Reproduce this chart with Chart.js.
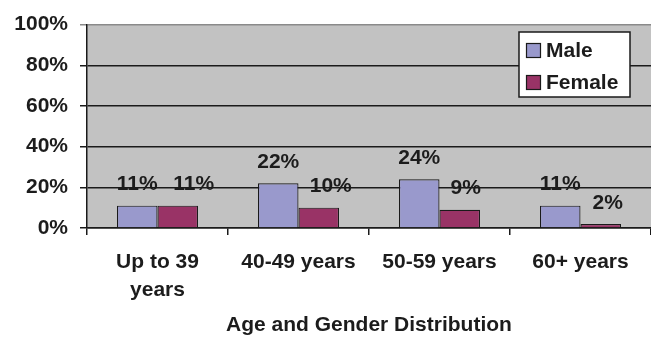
<!DOCTYPE html>
<html>
<head>
<meta charset="utf-8">
<script src="https://cdn.jsdelivr.net/npm/chart.js@4.4.1/dist/chart.umd.min.js"></script>
<style>
  html, body { margin: 0; padding: 0; background: #fff; overflow: hidden; }
  #wrap { width: 651px; height: 338px; }
</style>
</head>
<body>
<div id="wrap"><canvas id="c" width="651" height="338"></canvas></div>
<script>
const categories = [["Up to 39", "years"], "40-49 years", "50-59 years", "60+ years"];
const seriesNames = ["Male", "Female"];
const maleValues = [11, 22, 24, 11];
const femaleValues = [11, 10, 9, 2];
const yTicks = [0, 20, 40, 60, 80, 100];
const axisTitle = "Age and Gender Distribution";

const FONT = "'Liberation Sans', Arial, sans-serif";
const TEXT = "#1c1c1c";
const colors = ["#9999cc", "#993366"];

const plotBg = {
  id: "plotBg",
  beforeDraw(chart) {
    const { ctx, chartArea: a } = chart;
    ctx.save();
    ctx.fillStyle = "#c2c2c2";
    ctx.fillRect(a.left, a.top, a.right - a.left, a.bottom - a.top);
    ctx.restore();
  }
};

// horizontal nudges of the value labels (style only), per series
const labelNudge = [[0, 0, 0, 0], [16, 12, 6, 7]];

const valueLabels = {
  id: "valueLabels",
  afterDatasetsDraw(chart) {
    const { ctx } = chart;
    ctx.save();
    ctx.font = "bold 21px " + FONT;
    ctx.fillStyle = TEXT;
    ctx.textAlign = "center";
    ctx.textBaseline = "middle";
    chart.data.datasets.forEach((ds, di) => {
      const meta = chart.getDatasetMeta(di);
      meta.data.forEach((bar, i) => {
        ctx.fillText(ds.data[i] + "%", bar.x + labelNudge[di][i], bar.y - 21);
      });
    });
    ctx.restore();
  }
};

const boxLegend = {
  id: "boxLegend",
  afterDraw(chart) {
    const { ctx } = chart;
    const x0 = 519, y0 = 32, w = 111, h = 65;
    ctx.save();
    ctx.fillStyle = "#ffffff";
    ctx.fillRect(x0, y0, w, h);
    ctx.strokeStyle = "#1a1a1a";
    ctx.lineWidth = 1.5;
    ctx.strokeRect(x0, y0, w, h);
    ctx.font = "bold 21px " + FONT;
    ctx.textAlign = "left";
    ctx.textBaseline = "middle";
    chart.data.datasets.forEach((ds, i) => {
      const cy = 50.5 + i * 32;
      ctx.fillStyle = ds.backgroundColor;
      ctx.fillRect(526.5, cy - 7, 14, 14);
      ctx.lineWidth = 1.2;
      ctx.strokeStyle = "#1a1a1a";
      ctx.strokeRect(526.5, cy - 7, 14, 14);
      ctx.fillStyle = TEXT;
      ctx.fillText(ds.label, 546, cy + 1);
    });
    ctx.restore();
  }
};

new Chart(document.getElementById("c"), {
  type: "bar",
  data: {
    labels: categories,
    datasets: [
      { label: seriesNames[0], data: maleValues, backgroundColor: colors[0], borderColor: "#1a1a1a", borderWidth: 1.2 },
      { label: seriesNames[1], data: femaleValues, backgroundColor: colors[1], borderColor: "#1a1a1a", borderWidth: 1.2 }
    ]
  },
  options: {
    responsive: false,
    animation: false,
    layout: { padding: { top: 17.5, right: 0, left: 0, bottom: 0 } },
    datasets: { bar: { categoryPercentage: 0.575, barPercentage: 1 } },
    plugins: { legend: { display: false }, tooltip: { enabled: false } },
    scales: {
      x: {
        offset: true,
        grid: { offset: true, drawOnChartArea: false, color: "#1a1a1a", lineWidth: 1.5, tickLength: 7 },
        border: { color: "#1a1a1a", width: 1.5 },
        ticks: { color: TEXT, font: { family: FONT, size: 21, weight: "bold", lineHeight: 1.35 }, padding: 13, maxRotation: 0, autoSkip: false },
        title: { display: true, text: axisTitle, color: TEXT, font: { family: FONT, size: 21, weight: "bold" }, padding: { top: 0, bottom: 0 } },
        afterFit(scale) { scale.height = 110; }
      },
      y: {
        min: 0, max: 100,
        afterBuildTicks(scale) { scale.ticks = yTicks.map(v => ({ value: v })); },
        grid: {
          color: ctx => (ctx.tick && ctx.tick.value === 100) ? "#8a8a8a" : "#1a1a1a",
          lineWidth: 1.5, tickLength: 7
        },
        border: { color: "#1a1a1a", width: 1.5 },
        ticks: { color: TEXT, font: { family: FONT, size: 21, weight: "bold" }, padding: 12, callback: v => v + "%" },
        afterFit(scale) { scale.width = 87; }
      }
    }
  },
  plugins: [plotBg, valueLabels, boxLegend]
});
</script>
</body>
</html>
